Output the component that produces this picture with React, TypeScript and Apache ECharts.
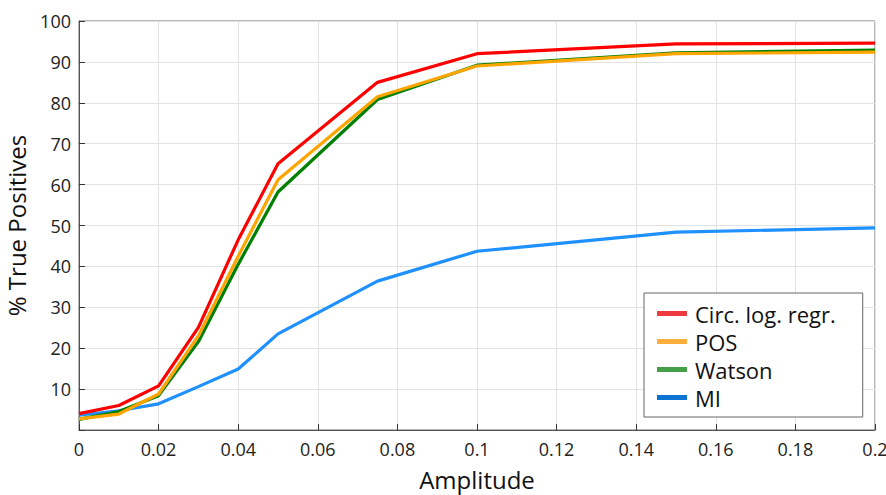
import React, { useEffect, useRef } from "react";
import * as echarts from "echarts";

const amplitudes = [0, 0.01, 0.02, 0.03, 0.04, 0.05, 0.075, 0.1, 0.15, 0.2];
const circLogRegr = [4.0, 6.0, 10.8, 25.1, 46.5, 65.1, 85.0, 92.0, 94.4, 94.6];
const pos = [2.7, 3.9, 8.8, 23.0, 42.5, 61.2, 81.5, 89.0, 92.0, 92.4];
const watson = [2.6, 4.5, 8.4, 21.6, 40.5, 58.2, 80.8, 89.2, 92.2, 92.9];
const mi = [3.6, 4.7, 6.4, 10.6, 14.9, 23.5, 36.4, 43.7, 48.4, 49.4];

const seriesNames = ["Circ. log. regr.", "POS", "Watson", "MI"];
const lineColors = ["#ff0000", "#ffa500", "#008000", "#1e90ff"];
const legendColors = ["#ee3a3f", "#fbae3c", "#43a047", "#0b74d0"];

const FONT = "'Open Sans', 'Noto Sans', sans-serif";

export default function App() {
  const ref = useRef<HTMLDivElement>(null);
  useEffect(() => {
    if (!ref.current) return;
    const chart = echarts.init(ref.current, undefined, { renderer: "svg" });
    const datasets = [circLogRegr, pos, watson, mi];
    chart.setOption({
      animation: false,
      textStyle: { fontFamily: FONT },
      grid: {
        left: 79,
        right: 11,
        top: 21,
        bottom: 65,
        containLabel: false,
        outerBoundsMode: "none",
        show: true,
        borderColor: "#6e6e6e",
        borderWidth: 1,
      },
      legend: {
        orient: "vertical",
        left: 644,
        top: 293,
        backgroundColor: "#ffffff",
        borderColor: "#666",
        borderWidth: 1,
        borderRadius: 0,
        padding: [7, 27, 6, 13],
        itemGap: 1,
        itemWidth: 30,
        itemHeight: 5,
        icon: "rect",
        textStyle: {
          fontSize: 22,
          lineHeight: 27,
          color: "#111",
          fontFamily: FONT,
          padding: [0, 0, 0, 3],
        },
        data: seriesNames.map((n, i) => ({ name: n, itemStyle: { color: legendColors[i] } })),
      },
      xAxis: {
        type: "value",
        min: 0,
        max: 0.2,
        interval: 0.02,
        name: "Amplitude",
        nameLocation: "middle",
        nameGap: 37,
        nameTextStyle: { fontSize: 24, color: "#111", fontFamily: FONT },
        axisLine: { lineStyle: { color: "#555", width: 1 } },
        axisTick: { inside: true, length: 6, lineStyle: { color: "#333" } },
        axisLabel: {
          fontSize: 18,
          color: "#222",
          margin: 10,
          formatter: (v: number) => String(parseFloat(v.toFixed(3))),
        },
        splitLine: { show: true, lineStyle: { color: "#e2e2e2", width: 1 } },
      },
      yAxis: {
        type: "value",
        min: 0,
        max: 100,
        interval: 10,
        name: "% True Positives",
        nameLocation: "middle",
        nameGap: 51,
        nameTextStyle: { fontSize: 24, color: "#111", fontFamily: FONT },
        axisLine: { show: true, lineStyle: { color: "#555", width: 1 } },
        axisTick: { show: true, inside: true, length: 6, lineStyle: { color: "#333" } },
        axisLabel: {
          fontSize: 18,
          color: "#222",
          margin: 8,
          formatter: (v: number) => (v === 0 ? "" : String(v)),
        },
        splitLine: { show: true, lineStyle: { color: "#e2e2e2", width: 1 } },
      },
      series: datasets.map((d, i) => ({
        name: seriesNames[i],
        type: "line",
        data: amplitudes.map((x, j) => [x, d[j]]),
        showSymbol: false,
        symbol: "none",
        lineStyle: { color: lineColors[i], width: 3.2 },
        itemStyle: { color: lineColors[i] },
        z: 10 - i,
      })),
    });
    return () => chart.dispose();
  }, []);
  return <div ref={ref} style={{ width: 886, height: 495, position: "absolute", left: 0, top: 0 }} />;
}
